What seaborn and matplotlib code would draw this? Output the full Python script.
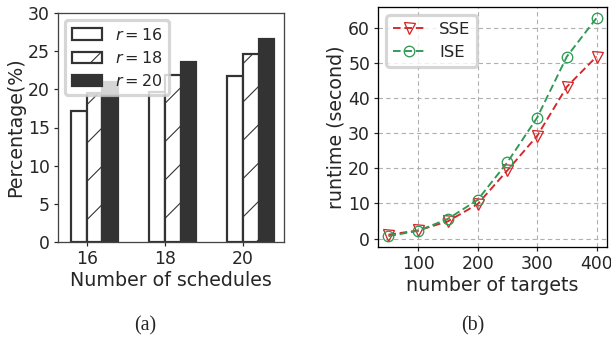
import numpy as np
import pandas as pd
import matplotlib
matplotlib.use("Agg")
import matplotlib.pyplot as plt
import seaborn as sns

# ---------------- data ----------------
schedules = ["16", "18", "20"]
r_levels = ["$r = 16$", "$r = 18$", "$r = 20$"]
pct_r16 = [17.2, 19.6, 21.7]
pct_r18 = [19.5, 21.9, 24.6]
pct_r20 = [21.0, 23.6, 26.6]

targets = [50, 100, 150, 200, 250, 300, 350, 400]
sse_runtime = [1.1, 2.3, 4.9, 9.8, 19.4, 29.2, 43.2, 51.8]
ise_runtime = [0.7, 2.2, 5.6, 11.0, 21.7, 34.4, 51.8, 62.8]

# ---------------- sizing ----------------
DPI = 230
W, H = 611, 341


def pt(px):
    return px * 72.0 / DPI


sns.set_style("white")
plt.rcParams.update({
    "font.family": ["DejaVu Sans"],
    "font.size": pt(17),
    "axes.labelsize": pt(19),
    "xtick.labelsize": pt(17.3),
    "ytick.labelsize": pt(17.3),
    "legend.fontsize": pt(16),
    "xtick.major.size": pt(4),
    "ytick.major.size": pt(4),
    "xtick.major.width": pt(1.2),
    "ytick.major.width": pt(1.2),
    "xtick.major.pad": pt(4),
    "ytick.major.pad": pt(4),
    "axes.linewidth": pt(1.3),
    "axes.labelpad": pt(3),
    "hatch.linewidth": pt(1.1),
    "xtick.bottom": True,
    "ytick.left": True,
    "xtick.direction": "out",
    "ytick.direction": "out",
    "mathtext.fontset": "dejavusans",
})

fig = plt.figure(figsize=(W / DPI, H / DPI), dpi=DPI)
ax1 = fig.add_axes([58 / W, 1 - 242 / H, 226 / W, 229 / H])
ax2 = fig.add_axes([378 / W, 1 - 247 / H, 229 / W, 240 / H])

# ---------------- (a) bars ----------------
df = pd.DataFrame({
    "schedules": schedules * 3,
    "r": np.repeat(r_levels, len(schedules)),
    "pct": pct_r16 + pct_r18 + pct_r20,
})
edge = "#333333"
sns.barplot(data=df, x="schedules", y="pct", hue="r", hue_order=r_levels,
            palette=["white", "white", "#333333"], width=0.6, saturation=1,
            edgecolor=edge, linewidth=pt(2.2), ax=ax1, legend=False)
for p in ax1.containers[1]:
    p.set_hatch("//")
handles = [c.patches[0] for c in ax1.containers]
ax1.legend(handles, r_levels, loc="upper left", handlelength=1.9,
           borderaxespad=0.45, labelspacing=0.45)
ax1.set_ylim(0, 30)
ax1.set_yticks(np.arange(0, 31, 5))
ax1.set_xticks(np.arange(len(schedules)) - 0.1)
ax1.set_xticklabels(schedules)
ax1.set_xlim(-0.467, 2.423)
ax1.set_xlabel("Number of schedules")
ax1.set_ylabel("Percentage(%)")
for s in ax1.spines.values():
    s.set_color("#444444")
    s.set_visible(True)

# ---------------- (b) lines ----------------
red = "#d62728"
green = "#2e9a55"
dash = (0, (4.0, 2.0))
sns.lineplot(x=targets, y=sse_runtime, ax=ax2, color=red, linestyle=dash,
             linewidth=pt(1.9), marker="v", markersize=pt(11),
             markerfacecolor="none", markeredgecolor=red,
             markeredgewidth=pt(1.3), label="SSE")
sns.lineplot(x=targets, y=ise_runtime, ax=ax2, color=green, linestyle=dash,
             linewidth=pt(1.9), marker="o", markersize=pt(10.5),
             markerfacecolor="none", markeredgecolor=green,
             markeredgewidth=pt(1.3), label="ISE")
ax2.grid(True, linestyle=(0, (4, 3)), color="#b0b0b0", linewidth=pt(1.1))
ax2.set_axisbelow(True)
ax2.set_xticks([100, 200, 300, 400])
ax2.set_yticks(np.arange(0, 61, 10))
ax2.set_xlabel("number of targets")
ax2.set_ylabel("runtime (second)")
ax2.legend(loc="upper left", fontsize=pt(16.5), handlelength=2.0,
           borderaxespad=0.5)
for s in ax2.spines.values():
    s.set_color("black")
    s.set_visible(True)

# ---------------- captions ----------------
fig.text(145 / W, 1 - 326 / H, "(a)", family="Liberation Serif",
         size=pt(20), ha="center", va="center")
fig.text(473 / W, 1 - 326 / H, "(b)", family="Liberation Serif",
         size=pt(20), ha="center", va="center")

fig.savefig("out.png", dpi=DPI, facecolor="white")
